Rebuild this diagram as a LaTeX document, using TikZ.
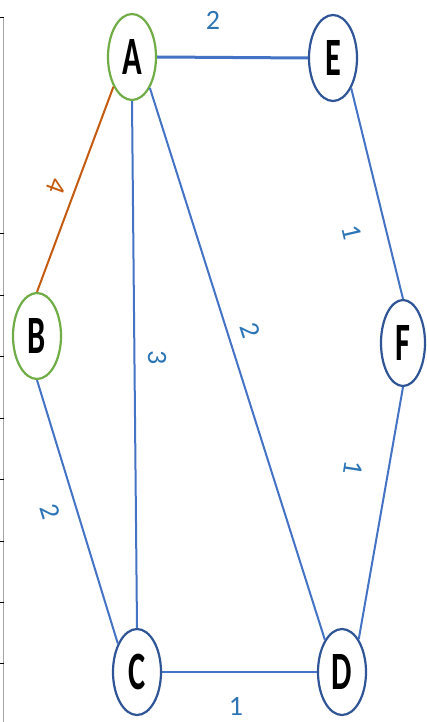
\documentclass[tikz,border=0pt]{standalone}
\usepackage{fontspec}
\setmainfont{Carlito}
\newfontfamily\vertexfont[FakeStretch=0.6]{Carlito}
\usetikzlibrary{shapes.geometric}

\definecolor{edgeblue}{HTML}{4472C4}
\definecolor{nodeblue}{HTML}{2F5597}
\definecolor{nodegreen}{HTML}{70AD47}
\definecolor{edgeorange}{HTML}{C55A11}
\definecolor{labelblue}{HTML}{2E75B6}
\definecolor{axisgray}{HTML}{A6A6A6}

\begin{document}
\begin{tikzpicture}[
    x=1pt, y=-1pt,
    vertex/.style={draw, ellipse, line width=2.2pt, fill=white, minimum width=48pt, minimum height=86pt, inner sep=0pt, font=\vertexfont\bfseries\fontsize{54}{54}\selectfont},
    bluevertex/.style={vertex, draw=nodeblue},
    greenvertex/.style={vertex, draw=nodegreen},
    edge/.style={line width=2pt, edgeblue},
    weight/.style={text=labelblue, font=\fontsize{28}{28}\selectfont, inner sep=0pt},
    tick/.style={black, line width=0.8pt}
]
\useasboundingbox (0,0) rectangle (426,722);

% ===== LEFT AXIS =====
\draw[axisgray, line width=0.9pt] (3.5,17) -- (3.5,722);
\foreach \ty in {17,233,295,356,418,479,541,602,663}
    \draw[tick] (0,\ty) -- (3.5,\ty);

% ===== VERTICES =====
\node[greenvertex] (A) at (132,57) {A};
\node[bluevertex] (E) at (333,58) {E};
\node[greenvertex] (B) at (37,336) {B};
\node[bluevertex, minimum width=44pt] (F) at (403,343) {F};
\node[bluevertex] (C) at (137,672) {C};
\node[bluevertex] (D) at (342,672) {D};

% ===== EDGES =====
\draw[edge, line width=3pt] (A.east) -- (E.west);
\draw[edge, edgeorange] (A.238) -- (B.north);
\draw[edge] (A.south) -- (C.north);
\draw[edge] (A.300) -- (D.118);
\draw[edge] (B.south) -- (C.124);
\draw[edge] (C.east) -- (D.west);
\draw[edge] (E.301) -- (F.north);
\draw[edge] (F.south) -- (D.63);

% ===== WEIGHTS =====
\node[weight] (wAE) at (213,20) {2};
\node[weight, text=edgeorange, rotate=-110] (wAB) at (57,186) {4};
\node[weight, rotate=-90] (wAC) at (157,358) {3};
\node[weight, rotate=-72] (wAD) at (250,330) {2};
\node[weight, rotate=-73] (wBC) at (50,512) {2};
\node[weight, rotate=-77] (wEF) at (352,232) {1};
\node[weight, rotate=-99] (wFD) at (353,468) {1};
\node[weight] (wCD) at (236,706) {1};

\end{tikzpicture}
\end{document}
